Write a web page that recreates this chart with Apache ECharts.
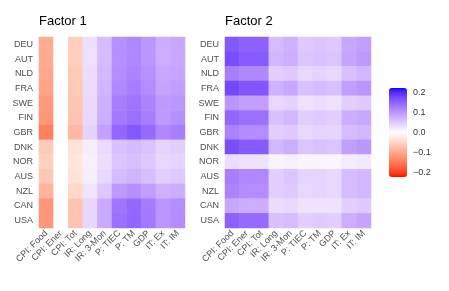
<!DOCTYPE html>
<html><head><meta charset="utf-8">
<script src="https://cdn.jsdelivr.net/npm/echarts@6/dist/echarts.min.js"></script>
<style>html,body{margin:0;padding:0;background:#fff}#c{width:449px;height:291px}</style>
</head><body><div id="c"></div>
<script>
const countries = ['DEU','AUT','NLD','FRA','SWE','FIN','GBR','DNK','NOR','AUS','NZL','CAN','USA'];
const variables = ['CPI: Food','CPI: Ener','CPI: Tot','IR: Long','IR: 3-Mon','P: TIEC','P: TM','GDP','IT: Ex','IT: IM'];
const panelTitles = ['Factor 1','Factor 2'];
const legendTicks = [-0.2,-0.1,0,0.1,0.2];
const scaleLimit = 0.222;

// rows = countries, columns = variables
const factor1 = [
  [-0.097,0,-0.057,0.030,0.064,0.106,0.115,0.101,0.078,0.083],
  [-0.097,0,-0.057,0.030,0.064,0.106,0.115,0.101,0.078,0.083],
  [-0.101,0,-0.060,0.032,0.067,0.110,0.120,0.106,0.083,0.087],
  [-0.106,0,-0.063,0.033,0.070,0.115,0.124,0.110,0.087,0.092],
  [-0.115,0,-0.067,0.036,0.075,0.124,0.133,0.120,0.097,0.101],
  [-0.120,0,-0.069,0.037,0.078,0.129,0.138,0.124,0.097,0.106],
  [-0.143,0,-0.081,0.043,0.090,0.147,0.161,0.143,0.115,0.124],
  [-0.060,0,-0.032,0.016,0.035,0.060,0.066,0.057,0.041,0.046],
  [-0.055,0,-0.028,0.013,0.032,0.055,0.062,0.052,0.037,0.041],
  [-0.064,0,-0.033,0.016,0.037,0.064,0.071,0.062,0.046,0.051],
  [-0.087,0,-0.046,0.025,0.053,0.097,0.106,0.092,0.074,0.078],
  [-0.120,0,-0.069,0.039,0.081,0.133,0.145,0.127,0.101,0.110],
  [-0.120,0,-0.069,0.039,0.081,0.136,0.147,0.129,0.101,0.110]
];
const factor2 = [
  [0.161,0.152,0.152,0.064,0.074,0.051,0.055,0.051,0.083,0.092],
  [0.170,0.158,0.158,0.069,0.078,0.055,0.060,0.055,0.087,0.097],
  [0.124,0.115,0.115,0.046,0.051,0.037,0.041,0.037,0.060,0.069],
  [0.175,0.163,0.163,0.074,0.083,0.060,0.064,0.060,0.092,0.101],
  [0.101,0.092,0.092,0.037,0.041,0.028,0.032,0.028,0.046,0.051],
  [0.147,0.138,0.138,0.060,0.069,0.046,0.051,0.046,0.078,0.083],
  [0.120,0.110,0.110,0.046,0.051,0.037,0.041,0.040,0.064,0.069],
  [0.170,0.158,0.158,0.069,0.078,0.055,0.060,0.055,0.092,0.101],
  [0.032,0.028,0.028,0.011,0.013,0.009,0.009,0.009,0.018,0.020],
  [0.124,0.115,0.115,0.046,0.055,0.041,0.041,0.037,0.064,0.069],
  [0.120,0.110,0.110,0.046,0.051,0.037,0.041,0.037,0.064,0.069],
  [0.083,0.078,0.078,0.032,0.037,0.028,0.028,0.028,0.046,0.051],
  [0.152,0.143,0.143,0.060,0.064,0.046,0.051,0.046,0.078,0.087]
];

// Lab interpolation (like ggplot's gradient2)
function hexToLab(h){
  let r=parseInt(h.substr(1,2),16)/255,g=parseInt(h.substr(3,2),16)/255,b=parseInt(h.substr(5,2),16)/255;
  const lin=c=>c<=0.04045?c/12.92:Math.pow((c+0.055)/1.055,2.4);
  r=lin(r);g=lin(g);b=lin(b);
  let X=(0.4124*r+0.3576*g+0.1805*b)/0.95047,Y=(0.2126*r+0.7152*g+0.0722*b),Z=(0.0193*r+0.1192*g+0.9505*b)/1.08883;
  const f=t=>t>0.008856?Math.cbrt(t):(7.787*t+16/116);
  const fx=f(X),fy=f(Y),fz=f(Z);
  return [116*fy-16,500*(fx-fy),200*(fy-fz)];
}
function labToHex(l){
  const fy=(l[0]+16)/116,fx=fy+l[1]/500,fz=fy-l[2]/200;
  const fi=t=>t*t*t>0.008856?t*t*t:(t-16/116)/7.787;
  const X=fi(fx)*0.95047,Y=fi(fy),Z=fi(fz)*1.08883;
  let r=3.2406*X-1.5372*Y-0.4986*Z,g=-0.9689*X+1.8758*Y+0.0415*Z,b=0.0557*X-0.2040*Y+1.0570*Z;
  const gam=c=>{c=c<=0.0031308?12.92*c:1.055*Math.pow(c,1/2.4)-0.055;return Math.max(0,Math.min(255,Math.round(c*255)));};
  return '#'+[gam(r),gam(g),gam(b)].map(v=>v.toString(16).padStart(2,'0')).join('');
}
const labW=hexToLab('#ffffff'),labR=hexToLab('#ff0000'),labB=hexToLab('#0000ff');
const stops=[];
for(let i=-40;i<=40;i++){
  const t=i/40,tgt=t<0?labR:labB,a=Math.abs(t);
  stops.push(labToHex([0,1,2].map(k=>labW[k]+(tgt[k]-labW[k])*a)));
}

function toData(m){const d=[];m.forEach((row,yi)=>row.forEach((v,xi)=>d.push([xi,yi,v])));return d;}

const font='"Liberation Sans", Arial, sans-serif';
const lblColor='#4D4D4D';
const gridsPos=[{left:39,top:37,width:146,height:191},{left:225,top:37,width:146,height:191}];

const xAxes=[],yAxes=[],series=[];
gridsPos.forEach((g,i)=>{
  xAxes.push({type:'category',gridIndex:i,data:variables,
    axisLine:{show:false},axisTick:{show:false},splitLine:{show:false},
    axisLabel:{rotate:45,fontSize:9,color:lblColor,fontFamily:font,margin:4,interval:0}});
  yAxes.push({type:'category',gridIndex:i,data:countries,inverse:true,
    axisLine:{show:false},axisTick:{show:false},splitLine:{show:false},
    axisLabel:{fontSize:9,color:lblColor,fontFamily:font,margin:6,interval:0}});
  series.push({type:'heatmap',xAxisIndex:i,yAxisIndex:i,data:toData(i===0?factor1:factor2),
    itemStyle:{borderWidth:0},emphasis:{disabled:true},progressive:0});
});
// colorbar label axes
xAxes.push({type:'value',gridIndex:2,show:false,min:0,max:1});
const fmt=v=>(v<0?'\u2212':'')+Math.abs(v).toFixed(1);
yAxes.push({type:'value',gridIndex:2,min:-scaleLimit,max:scaleLimit,position:'right',
  axisLine:{show:false},splitLine:{show:false},
  axisTick:{show:true,inside:true,length:4,lineStyle:{color:'#fff',width:1},customValues:legendTicks},
  axisLabel:{customValues:legendTicks,formatter:fmt,fontSize:9,color:'#333',fontFamily:font,margin:6}});
yAxes.push({type:'value',gridIndex:2,min:-scaleLimit,max:scaleLimit,position:'left',
  axisLine:{show:false},splitLine:{show:false},
  axisTick:{show:true,inside:true,length:4,lineStyle:{color:'#fff',width:1},customValues:legendTicks},
  axisLabel:{show:false}});

const chart=echarts.init(document.getElementById('c'),null,{renderer:'canvas'});
chart.setOption({
  animation:false,
  backgroundColor:'#fff',
  title:panelTitles.map((t,i)=>({text:t,left:gridsPos[i].left,top:15,padding:0,
    textStyle:{fontSize:13,fontWeight:'normal',color:'#000',fontFamily:font}})),
  grid:[...gridsPos,{left:389,top:88,width:18,height:89}],
  xAxis:xAxes,yAxis:yAxes,
  visualMap:{type:'continuous',min:-scaleLimit,max:scaleLimit,seriesIndex:[0,1],
    calculable:false,left:389,top:88,itemWidth:18,itemHeight:89,padding:0,
    text:null,showLabel:false,inRange:{color:stops},hoverLink:false,z:1},
  series:series
});
</script></body></html>
